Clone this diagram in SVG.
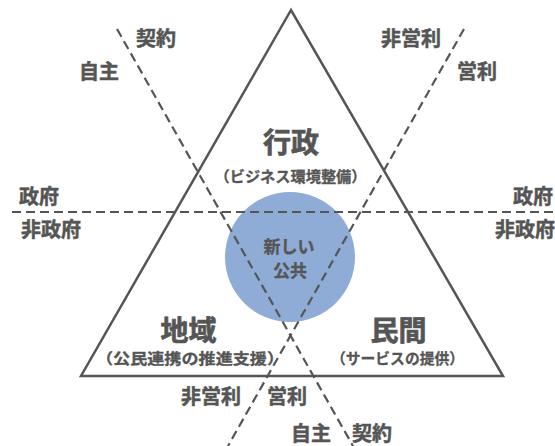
<svg xmlns="http://www.w3.org/2000/svg" width="555" height="446" viewBox="0 0 555 446">
<style>
.t{font-family:"Noto Sans CJK JP","Noto Sans CJK SC",sans-serif;font-weight:700;fill:#555;stroke:#555;stroke-width:0.5}
.lbl{font-size:20px}
.ttl{font-size:28px;text-anchor:middle;stroke-width:0.7}
.sub{font-size:15px;text-anchor:middle;stroke-width:0.3}
.ctr{font-size:17px;text-anchor:middle;stroke-width:0.3}
.dash{stroke:#555;stroke-width:2.2;stroke-dasharray:9 5;fill:none}
</style>
<rect width="555" height="446" fill="#fff"/>
<g id="triangle">
<polygon points="291,10 81,376 503,376" fill="none" stroke="#555" stroke-width="2.5" stroke-linejoin="miter"/>
</g>
<g id="new-public">
<circle cx="290" cy="257" r="65" fill="#8facd6"/>
</g>
<g id="connectors">
<line class="dash" x1="12" y1="212" x2="555" y2="212"/>
<line class="dash" x1="117" y1="29" x2="353" y2="446"/>
<line class="dash" x1="464" y1="29" x2="228" y2="446"/>
</g>
<g id="new-public-label">
<text class="t ctr" x="289" y="253">新しい</text>
<text class="t ctr" x="290" y="277">公共</text>
</g>
<g id="gyosei">
<text class="t ttl" x="291" y="153">行政</text>
<text class="t sub" x="290.5" y="182" textLength="152" lengthAdjust="spacingAndGlyphs">（ビジネス環境整備）</text>
</g>
<g id="chiiki">
<text class="t ttl" x="188.5" y="341">地域</text>
<text class="t sub" x="190" y="364" textLength="188" lengthAdjust="spacingAndGlyphs">（公民連携の推進支援）</text>
</g>
<g id="minkan">
<text class="t ttl" x="398.5" y="341">民間</text>
<text class="t sub" x="397.5" y="364" textLength="133" lengthAdjust="spacingAndGlyphs">（サービスの提供）</text>
</g>
<g id="axis-labels">
<text class="t lbl" x="136" y="46">契約</text>
<text class="t lbl" x="79" y="79">自主</text>
<text class="t lbl" x="381" y="46">非営利</text>
<text class="t lbl" x="457" y="79">営利</text>
<text class="t lbl" x="19" y="204">政府</text>
<text class="t lbl" x="21" y="237">非政府</text>
<text class="t lbl" x="513" y="204">政府</text>
<text class="t lbl" x="495" y="237">非政府</text>
<text class="t lbl" x="181" y="404">非営利</text>
<text class="t lbl" x="267" y="404">営利</text>
<text class="t lbl" x="291" y="441">自主</text>
<text class="t lbl" x="352" y="441">契約</text>
</g>
</svg>
